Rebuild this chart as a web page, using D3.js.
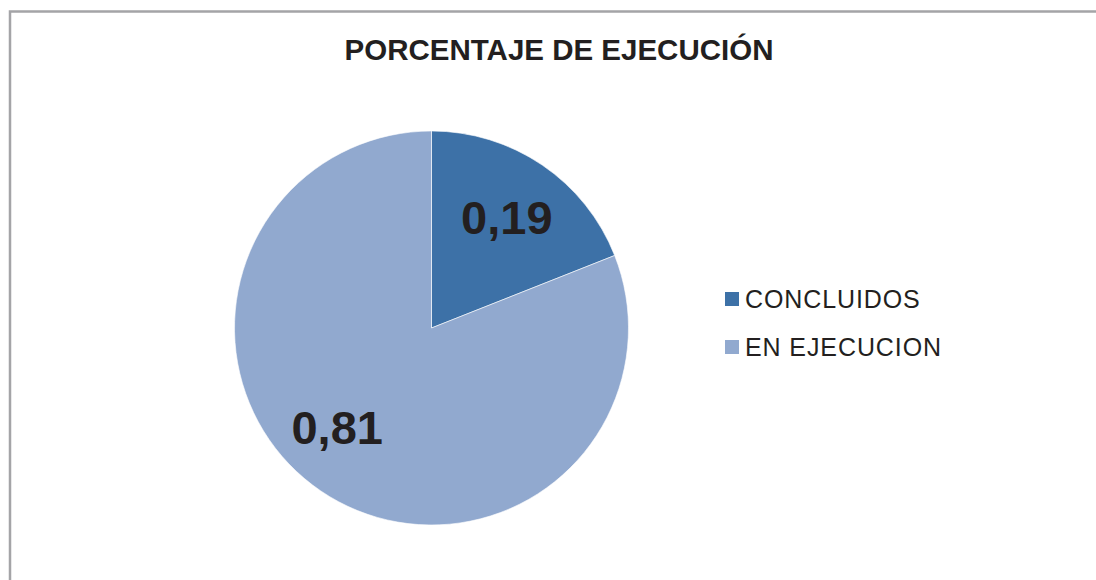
<!DOCTYPE html>
<html>
<head>
<meta charset="utf-8">
<script src="https://cdn.jsdelivr.net/npm/d3@7"></script>
<style>
  html, body { margin: 0; padding: 0; background: #fff; }
  svg { display: block; font-family: "Liberation Sans", Arial, sans-serif; }
</style>
</head>
<body>
<div id="chart"></div>
<script>
// datos del gráfico
const title = "PORCENTAJE DE EJECUCIÓN";
const categories = ["CONCLUIDOS", "EN EJECUCION"];
const values = [0.19, 0.81];
const labels = ["0,19", "0,81"];
const colors = ["#3d71a7", "#91a9cf"];

const W = 1096, H = 580;
const cx = 431.5, cy = 328, r = 197;

const svg = d3.select("#chart").append("svg")
    .attr("width", W)
    .attr("height", H);

// marco del área del gráfico (recortado a la derecha y abajo)
svg.append("rect")
    .attr("x", 10)
    .attr("y", 11.5)
    .attr("width", W + 20)
    .attr("height", H + 20)
    .attr("fill", "none")
    .attr("stroke", "#a4a4a7")
    .attr("stroke-width", 2.5);

// título
svg.append("text")
    .attr("x", 559)
    .attr("y", 60)
    .attr("text-anchor", "middle")
    .attr("font-size", 29.5)
    .attr("font-weight", "bold")
    .attr("fill", "#231f20")
    .text(title);

const color = d3.scaleOrdinal().domain(categories).range(colors);

const pie = d3.pie().sort(null).value(d => d.value);
const arcs = pie(categories.map((c, i) => ({ cat: c, value: values[i], label: labels[i] })));

const arc = d3.arc().innerRadius(0).outerRadius(r);
const labelArc = d3.arc().innerRadius(r * 0.68).outerRadius(r * 0.68);

// pequeño ajuste de posición de etiquetas (como en Excel)
const labelNudge = [[0, 0], [-19, -12]];

const g = svg.append("g").attr("transform", `translate(${cx},${cy})`);

g.selectAll("path")
    .data(arcs)
    .enter()
    .append("path")
    .attr("d", arc)
    .attr("fill", d => color(d.data.cat))
    .attr("stroke", "#ffffff")
    .attr("stroke-opacity", 0.6)
    .attr("stroke-width", 1);

g.selectAll("text.lbl")
    .data(arcs)
    .enter()
    .append("text")
    .attr("class", "lbl")
    .attr("transform", (d, i) => {
        const [x, y] = labelArc.centroid(d);
        return `translate(${x + labelNudge[i][0]},${y + labelNudge[i][1]})`;
    })
    .attr("text-anchor", "middle")
    .attr("dy", "0.36em")
    .attr("font-size", 47)
    .attr("font-weight", "bold")
    .attr("fill", "#231f20")
    .text(d => d.data.label);

// leyenda
const legendY = d3.scalePoint().domain(categories).range([299, 347]);

const legend = svg.append("g");
const item = legend.selectAll("g")
    .data(categories)
    .enter()
    .append("g")
    .attr("transform", d => `translate(725,${legendY(d)})`);

item.append("rect")
    .attr("x", 0)
    .attr("y", -7)
    .attr("width", 14)
    .attr("height", 14)
    .attr("fill", d => color(d));

item.append("text")
    .attr("x", 20)
    .attr("y", 0)
    .attr("dy", "0.36em")
    .attr("font-size", 25)
    .attr("letter-spacing", 0.9)
    .attr("fill", "#231f20")
    .text(d => d);
</script>
</body>
</html>
